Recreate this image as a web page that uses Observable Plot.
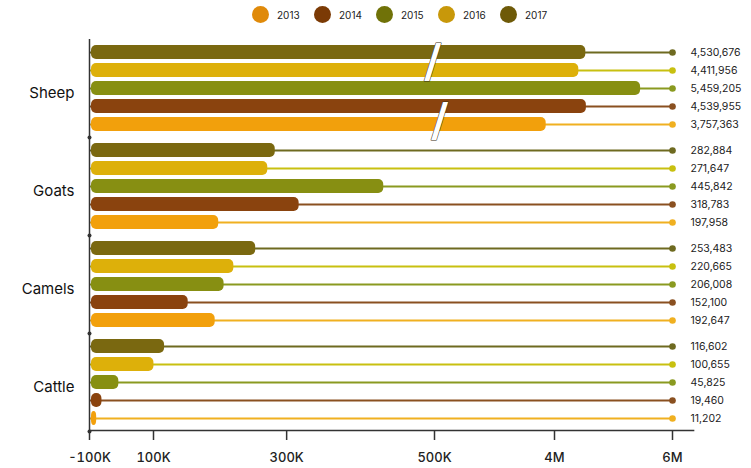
<!DOCTYPE html>
<html><head><meta charset="utf-8">
<script src="https://cdn.jsdelivr.net/npm/d3@7"></script>
<script src="https://cdn.jsdelivr.net/npm/@observablehq/plot@0.6"></script>
<style>
body{margin:0;background:#fff;font-family:Inter,"Noto Sans",sans-serif;}
#legend{height:30px;position:relative;width:751px;}
.item{position:absolute;top:6px;display:flex;align-items:center;font-size:10px;color:#222;height:17px}
.sw{width:17px;height:17px;border-radius:50%;margin-right:8px}
</style></head><body>
<div id="legend"></div><div id="chart"></div>
<script>
const animals = ["Sheep", "Goats", "Camels", "Cattle"];
const years = ["2013", "2014", "2015", "2016", "2017"];
const sheep = [3757363, 4539955, 5459205, 4411956, 4530676];
const goats = [197958, 318783, 445842, 271647, 282884];
const camels = [192647, 152100, 206008, 220665, 253483];
const cattle = [11202, 19460, 45825, 100655, 116602];
const legendColors = ["#e08a0a", "#7b3a05", "#707208", "#c8980a", "#6e5a08"];
const barColors = ["#f2a00c", "#8a430e", "#878f12", "#ddb00a", "#7a6810"];
const lineColors = ["#f0b020", "#8a5020", "#8a9a20", "#c8c010", "#6e6a20"];
const tickValues = [0, 100000, 300000, 500000, 4000000, 6000000];
const tickLabels = ["-100K", "100K", "300K", "500K", "4M", "6M"];
const scaleKnots = [0, 100000, 450000, 500000, 4000000, 6000000];
const lineEnd = 6000000;
const axisEnd = 6370000;
const breakMarks = [
  {animal: "Sheep", year: "2017", value: 498000, shift: 9.5},
  {animal: "Sheep", year: "2014", value: 650000, shift: 15}
];

const series = [sheep, goats, camels, cattle];
const rows = animals.flatMap((a, ai) => years.map((y, yi) => ({animal: a, year: y, value: series[ai][yi], yi})));

// legend
const lg = document.getElementById("legend");
years.forEach((y, i) => {
  const it = document.createElement("div");
  it.className = "item";
  it.style.left = (252 + i * 62) + "px";
  it.innerHTML = `<span class="sw" style="background:${legendColors[i]}"></span><span>${y}</span>`;
  lg.appendChild(it);
});

const fmt = d3.format(",");
const chart = Plot.plot({
  width: 751,
  height: 438,
  marginTop: 8,
  marginBottom: 36,
  marginLeft: 89,
  marginRight: 57,
  style: {fontFamily: "Inter, 'Noto Sans', sans-serif", fontSize: "10.5px", color: "#222", background: "#fff"},
  x: {type: "linear", domain: scaleKnots, range: [89, 153, 386, 434, 554, 672]},
  y: {domain: years.slice().reverse(), axis: null, paddingInner: 0.25, paddingOuter: 0.275},
  fy: {domain: animals, padding: 0, label: null},
  color: {type: "identity"},
  marks: [
    Plot.link(rows, {fy: "animal", y1: "year", y2: "year", x1: 0, x2: lineEnd,
      stroke: d => lineColors[d.yi], strokeWidth: 2, markerEnd: "dot"}),
    Plot.barX(rows, {fy: "animal", y: "year", x1: 0, x2: "value",
      fill: d => barColors[d.yi], rx: 5, insetLeft: 2}),
    Plot.text(rows, {fy: "animal", y: "year", x: lineEnd, text: d => fmt(d.value),
      dx: 18, textAnchor: "start", fontSize: 10.5, fill: "#222"}),
    ...breakMarks.map(b => Plot.text([b], {fy: "animal", y: "year", x: "value", text: () => "/",
      dy: b.shift, fontSize: 46, fontWeight: "bold", fill: "#fff", stroke: "#3a3010", strokeWidth: 1, fontFamily: "DejaVu Sans"})),
    Plot.ruleX([0], {stroke: "#333", strokeWidth: 1.5}),
    Plot.dot(animals, {fy: d => d, x: 0, frameAnchor: "bottom", r: 2, fill: "#333"}),
    Plot.link([{animal: "Cattle", year: "2013"}], {fy: "animal", y1: "year", y2: "year", x1: 0, x2: axisEnd,
      dy: 12, stroke: "#333", strokeWidth: 1.5}),
    Plot.axisX({ticks: tickValues, tickFormat: d => tickLabels[tickValues.indexOf(d)],
      tickSize: 9, tickPadding: 12, fontSize: 13, fontWeight: 500, label: null, stroke: "#333", strokeWidth: 1.5, color: "#222"}),
    Plot.axisFy({anchor: "left", label: null, tickSize: 0, tickPadding: 15, fontSize: 15, dy: 5, fill: "#111"})
  ]
});
document.getElementById("chart").appendChild(chart);
</script>
</body></html>
